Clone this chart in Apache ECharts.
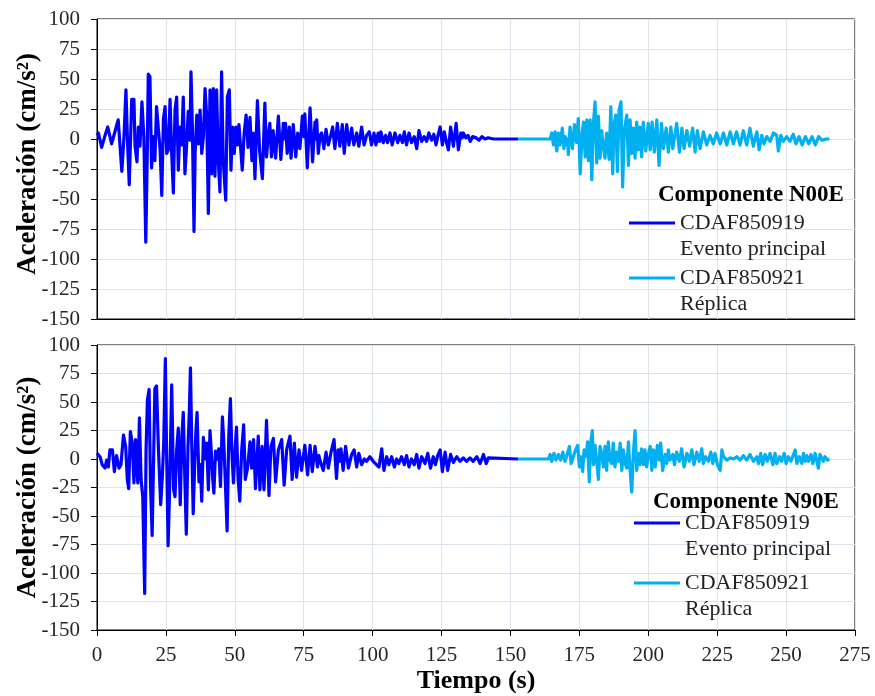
<!DOCTYPE html>
<html><head><meta charset="utf-8">
<script src="https://cdn.jsdelivr.net/npm/echarts@6.0.0/dist/echarts.min.js"></script>
<style>html,body{margin:0;padding:0;background:#fff}#c{width:875px;height:696px}</style>
</head><body><div id="c"></div>
<script>
// ---- data ----
const xTickLabels = [0,25,50,75,100,125,150,175,200,225,250,275];
const yTickLabels = [-150,-125,-100,-75,-50,-25,0,25,50,75,100];
const panelTitles = ['Componente N00E','Componente N90E'];
const seriesNames = ['CDAF850919','CDAF850921'];
const seriesSubtitles = ['Evento principal','Réplica'];
const yTitle = 'Aceleración (cm/s²)';
const xTitle = 'Tiempo (s)';

// N00E, main event [time s, acceleration cm/s2]
const n00eMain = [[0,3],[0.5,5],[1.7,-7],[2.8,2],[3.9,10],[5.3,-4],[6.5,6],[7.7,16],[9.0,-27],[9.8,2],[10.5,41],[11.1,-4],[11.7,-38],[12.6,33],[13.4,33],[13.8,-6],[14.5,-19],[15.0,10],[15.6,-6],[16.3,31],[17.0,2],[17.7,-86],[18.2,-18],[18.6,54],[19.2,52],[19.8,-24],[20.4,2],[21.0,-18],[21.6,27],[22.2,28],[22.9,-9],[23.5,-47],[24.1,17],[24.7,27],[25.3,-12],[25.9,-9],[26.5,33],[27.1,-12],[27.7,-45],[28.3,24],[28.9,35],[29.5,-26],[30.1,10],[30.7,-5],[31.3,35],[31.9,-29],[32.5,-6],[33.1,23],[33.7,-1],[34.1,56],[34.6,10],[35.2,-77],[35.6,-12],[36.2,20],[36.8,-4],[37.4,24],[38.0,-12],[38.6,2],[39.2,42],[39.8,19],[40.4,-62],[41.0,41],[41.6,-29],[42.2,42],[42.8,-31],[43.4,41],[44.0,-18],[44.6,-44],[45.2,56],[45.8,-18],[46.7,-51],[47.3,35],[48.0,41],[48.6,-26],[49.2,10],[49.8,-12],[50.4,10],[51.0,-5],[51.5,12],[52.0,11],[52.7,-26],[53.4,5],[54.1,20],[54.8,-7],[55.5,18],[56.2,-18],[56.7,5],[57.3,-33],[58.2,32],[59.0,-10],[60.0,-33],[60.9,30],[61.5,-15],[62.1,2],[62.7,13],[63.3,-15],[63.9,7],[64.8,-16],[65.8,19],[66.7,-17],[67.6,13],[68.0,0],[68.4,13],[69.0,-12],[69.8,10],[70.4,-16],[71.2,12],[72.1,-15],[72.8,5],[73.6,-8],[74.5,19],[75.0,2],[75.4,21],[76.3,-24],[77.3,26],[78.2,-19],[79.1,14],[79.4,0],[79.7,16],[80.3,-12],[80.9,3],[81.5,5],[82.3,-8],[83.1,8],[83.9,-5],[84.8,3],[85.5,10],[86.3,-8],[87.2,13],[88.1,-6],[89.0,12],[89.7,-12],[90.6,12],[91.4,-5],[92.4,9],[93.2,-5],[94.2,5],[95.0,-6],[96.0,10],[96.9,-5],[97.8,3],[98.8,6],[99.6,-5],[100.5,5],[101.2,-5],[102.0,5],[102.5,-2],[103.0,6],[103.9,-3],[104.7,3],[105.4,-3],[106.3,5],[107.1,-5],[108.1,5],[109.1,-3],[109.9,3],[110.8,-3],[111.5,6],[112.3,-5],[113.2,5],[114.1,-3],[115.1,2],[116.0,-8],[116.8,7],[117.8,-2],[118.7,2],[119.6,-2],[120.4,5],[121.4,-1],[122.2,4],[123.0,-5],[123.7,3],[124.5,10],[125.3,-5],[126.0,6],[126.8,-3],[127.5,-9],[128.3,10],[129.3,-6],[130.3,13],[131.1,-9],[132.0,5],[132.5,1],[132.9,5],[133.8,1],[134.6,3],[135.4,-2],[136.3,2],[137.5,1],[138.6,-1],[139.6,2],[140.8,0],[141.9,1],[143.8,0],[152.8,0]];

// N00E, aftershock
const n00eAfter = [[152.8,0],[164.4,0],[165.0,5],[165.6,-5],[166.2,6],[166.8,-10],[167.4,5],[168.0,-5],[168.8,9],[169.4,-8],[169.9,2],[170.4,-5],[170.7,0],[171.0,-13],[171.6,10],[172.5,-8],[173.2,12],[174.0,-3],[174.6,17],[175.3,-29],[176.0,5],[176.5,14],[177.1,-15],[177.7,16],[178.3,-18],[178.9,16],[179.5,-34],[180.1,13],[180.7,31],[181.3,-20],[181.9,19],[182.5,-16],[183.1,7],[183.7,-6],[184.3,-16],[184.9,5],[185.8,-17],[186.4,27],[187.1,-29],[187.6,12],[188.2,20],[188.8,-27],[189.4,24],[190.1,31],[190.7,-40],[191.3,7],[192.2,20],[192.8,-22],[193.4,16],[194.0,-12],[194.6,9],[195.2,-16],[195.8,14],[196.4,-9],[197.0,10],[197.6,-15],[198.2,14],[199.1,-10],[200.0,13],[200.7,-9],[201.4,14],[202.2,-11],[203.1,16],[203.9,-22],[204.8,13],[205.5,-8],[206.5,9],[207.3,-11],[208.2,10],[208.9,-8],[210.3,13],[211.3,-11],[212.2,9],[213.0,-8],[214.0,7],[215.0,-6],[216.1,9],[217.0,-11],[217.8,7],[218.8,-8],[220.0,6],[221.2,-5],[222.4,3],[223.6,-4],[224.8,5],[226.1,-4],[227.3,5],[228.5,-5],[229.7,6],[230.9,-4],[232.0,6],[233.3,-5],[234.5,7],[235.7,-5],[236.9,9],[238.1,-6],[239.4,6],[240.2,-9],[241.2,3],[242.0,-4],[243.0,2],[244.2,-2],[245.4,5],[246.6,3],[247.2,-10],[248.1,3],[249.0,-2],[250.2,2],[251.4,-2],[252.6,4],[253.6,-4],[254.7,2],[255.8,-5],[257.0,2],[258.2,-4],[259.4,2],[260.6,-5],[261.8,2],[263.0,-1],[264.5,0],[265.7,0]];

// N90E, main event
const n90eMain = [[0,5],[1.1,2],[1.9,-5],[2.9,-8],[3.5,-1],[4.1,-7],[4.7,8],[5.6,8],[6.3,-11],[7.1,3],[8.0,-8],[8.7,-5],[9.6,21],[10.4,11],[11.0,-18],[11.5,-26],[12.1,24],[12.8,14],[13.4,-21],[14.0,17],[14.8,-21],[15.4,36],[16.0,-18],[16.6,-33],[17.3,-118],[17.8,8],[18.3,52],[18.9,61],[19.4,-21],[20.0,-67],[20.6,8],[21.0,62],[21.6,64],[22.3,8],[23.1,-40],[23.7,-16],[24.2,14],[24.8,88],[25.2,14],[25.8,-76],[26.4,-21],[27.1,65],[27.8,-27],[28.3,-33],[28.9,8],[29.5,27],[30.2,-40],[30.8,20],[31.3,41],[31.9,-20],[32.4,-66],[33.0,10],[33.5,42],[33.9,80],[34.4,10],[34.9,-48],[35.5,0],[35.9,25],[36.3,41],[37.0,-20],[37.5,-5],[38.0,-37],[38.6,19],[39.2,0],[39.8,14],[40.4,-27],[41.0,25],[41.5,5],[42.0,-18],[42.4,-30],[43.0,7],[43.7,0],[44.2,9],[44.8,-24],[45.5,37],[46.0,15],[46.6,-23],[47.2,-63],[47.8,20],[48.4,53],[48.9,8],[49.5,-21],[50.1,8],[50.6,28],[51.2,-18],[51.8,-37],[52.5,8],[53.2,30],[53.8,-18],[54.6,-8],[55.5,15],[56.1,-8],[56.8,17],[57.5,-26],[58.5,20],[59.1,-27],[59.9,11],[60.6,-27],[61.5,34],[62.4,-32],[63.1,11],[64.0,18],[64.8,-20],[65.8,8],[67.0,17],[67.9,-23],[68.8,8],[70.0,20],[70.8,-18],[71.6,14],[72.4,-16],[73.3,8],[74.2,-10],[75.4,12],[76.4,-14],[77.3,12],[78.1,-11],[79.1,11],[80.0,-7],[80.5,3],[80.9,-1],[82.1,-10],[83.1,6],[83.9,-8],[84.9,6],[86.0,17],[86.9,-17],[87.5,8],[88.0,-2],[88.5,9],[89.3,-10],[90.2,11],[91.2,-8],[92.4,4],[93.3,8],[94.2,-7],[95.0,5],[96.0,-5],[97.0,0],[97.8,-2],[99.0,2],[100.2,-2],[101.4,-5],[102.3,-7],[103.3,9],[104.1,-10],[105.1,2],[105.9,-5],[106.9,2],[107.9,-7],[108.7,0],[109.5,-4],[110.5,2],[111.5,-5],[112.3,3],[113.2,-7],[114.1,0],[115.1,-5],[116.0,4],[116.8,-8],[117.8,2],[119.0,-4],[120.0,5],[121.0,-8],[122.0,2],[122.8,-5],[123.6,3],[124.5,8],[125.3,-11],[126.3,6],[127.2,-10],[128.3,4],[129.3,-3],[130.5,2],[131.7,-2],[132.9,1],[134.1,-2],[135.3,1],[136.5,-2],[137.8,2],[139.0,-4],[140.2,4],[141.2,-4],[142.0,1],[142.6,0],[152.8,0]];

// N90E, aftershock
const n90eAfter = [[152.8,0],[163.8,0],[164.4,4],[165.0,-2],[165.8,5],[166.5,-1],[167.4,4],[168.2,-1],[169.0,6],[169.8,-2],[170.7,5],[171.4,11],[172.0,-4],[172.8,2],[173.8,9],[174.4,12],[175.0,-7],[175.6,2],[176.2,-11],[176.7,8],[177.4,2],[178.0,15],[178.6,-20],[179.1,14],[179.7,25],[180.1,-5],[180.7,12],[181.3,-2],[181.9,-18],[182.5,11],[183.1,5],[183.7,-7],[184.3,11],[184.9,-10],[185.5,15],[186.1,-1],[186.7,-4],[187.3,14],[187.9,-7],[188.6,6],[189.2,-2],[189.8,14],[190.4,-10],[191.0,8],[191.6,-4],[192.2,-8],[192.8,15],[193.4,-10],[194.0,-29],[194.6,6],[195.2,25],[195.8,-10],[196.4,5],[197.0,-5],[197.6,9],[198.2,-5],[198.8,8],[199.4,-7],[200.1,5],[200.7,11],[201.3,-10],[201.9,8],[202.5,-7],[203.3,12],[204.0,-1],[204.5,14],[205.2,-10],[206.1,4],[206.7,-4],[207.3,8],[207.9,-1],[208.9,4],[209.5,-5],[210.3,6],[211.3,-2],[212.1,9],[213.0,-7],[214.0,5],[214.9,-2],[215.8,8],[216.6,-5],[217.6,6],[218.5,-2],[219.4,9],[220.0,-4],[220.8,2],[221.8,-2],[222.7,6],[223.4,-4],[224.2,5],[225.1,-5],[226.1,-10],[226.7,8],[227.3,2],[228.5,-1],[229.7,1],[230.9,0],[232.1,2],[233.3,-1],[234.5,3],[235.7,-1],[236.9,4],[238.2,-2],[239.4,2],[240.0,-4],[240.8,5],[241.5,-5],[242.4,4],[243.2,-2],[244.2,5],[245.2,-5],[246.0,5],[246.6,-4],[247.6,2],[248.4,-2],[249.3,5],[250.0,-4],[250.8,2],[251.7,-2],[252.7,4],[253.3,8],[253.9,-4],[254.8,2],[255.7,-4],[256.3,5],[256.9,-2],[257.5,3],[258.1,-2],[259.0,4],[259.7,-4],[260.5,5],[261.1,6],[261.7,-8],[262.3,4],[262.9,5],[263.5,-2],[264.1,2],[265.0,-1],[265.7,0]];

// ---- chart ----
const SERIF = '"Liberation Serif","Times New Roman",serif';
const DARK = '#0000FF', LIGHT = '#00B0F0';
const chart = echarts.init(document.getElementById('c'), null, {renderer:'canvas'});

function xAxisFor(idx, showLabels) {
  return {
    type:'value', gridIndex: idx,
    min: xTickLabels[0], max: xTickLabels[xTickLabels.length-1],
    interval: xTickLabels[1]-xTickLabels[0],
    axisLine:{show:true, onZero:false, lineStyle:{color:'#000', width:1}},
    axisTick:{show:showLabels, length:6, lineStyle:{color:'#000'}},
    axisLabel:{show:showLabels, fontFamily:SERIF, fontSize:21, color:'#262626', margin:15},
    splitLine:{show:true, lineStyle:{color:'#dbe3ec', width:1}},
    name: showLabels ? xTitle : '',
    nameLocation:'middle', nameGap:38, nameMoveOverlap:false,
    nameTextStyle:{fontFamily:SERIF, fontSize:26, fontWeight:'bold', color:'#000'}
  };
}
function yAxisFor(idx, namePad) {
  return {
    type:'value', gridIndex: idx,
    min: yTickLabels[0], max: yTickLabels[yTickLabels.length-1],
    interval: yTickLabels[1]-yTickLabels[0],
    axisLine:{show:true, onZero:false, lineStyle:{color:'#000', width:1}},
    axisTick:{show:true, length:6, lineStyle:{color:'#000'}},
    axisLabel:{fontFamily:SERIF, fontSize:21, color:'#262626', margin:17},
    splitLine:{show:true, lineStyle:{color:'#dbe3ec', width:1}},
    name: yTitle, nameLocation:'middle', nameGap:55, nameMoveOverlap:false,
    nameTextStyle:{fontFamily:SERIF, fontSize:27, fontWeight:'bold', color:'#000', padding:namePad}
  };
}
function lineSeries(name, data, color, idx) {
  return {
    type:'line', name, data, xAxisIndex: idx, yAxisIndex: idx,
    symbol:'none', showSymbol:false, smooth:false,
    lineStyle:{color, width:3.2, join:'round'}, itemStyle:{color},
    z: 3
  };
}
const subFor = {};
seriesNames.forEach((n,i)=>{ subFor[n] = seriesSubtitles[i]; });
function legendFor(name, left, centerY) {
  return {
    data:[name], left, top: centerY - 39, orient:'vertical', padding:0,
    icon:'rect', itemWidth:46, itemHeight:3, selectedMode:false,
    formatter: n => ' \n' + n + '\n' + subFor[n],
    textStyle:{fontFamily:SERIF, fontSize:22, lineHeight:26, color:'#222'}
  };
}

const option = {
  animation:false,
  backgroundColor:'#fff',
  title: [
    {text: panelTitles[0], left:658, top:184, padding:0,
     textStyle:{fontFamily:SERIF, fontSize:23, fontWeight:'bold', color:'#000'}},
    {text: panelTitles[1], left:653, top:491, padding:0,
     textStyle:{fontFamily:SERIF, fontSize:23, fontWeight:'bold', color:'#000'}}
  ],
  legend: [
    legendFor(seriesNames[0], 629, 223),
    legendFor(seriesNames[1], 629, 278),
    legendFor(seriesNames[0], 634, 523),
    legendFor(seriesNames[1], 634, 583)
  ],
  grid: [
    {left:97, top:19, width:758, height:300, show:true, borderColor:'#000', borderWidth:1, backgroundColor:'transparent', containLabel:false, outerBoundsMode:'none'},
    {left:97, top:345, width:758, height:285, show:true, borderColor:'#000', borderWidth:1, backgroundColor:'transparent', containLabel:false, outerBoundsMode:'none'}
  ],
  xAxis:[xAxisFor(0,false), xAxisFor(1,true)],
  yAxis:[yAxisFor(0,[0,0,0,10]), yAxisFor(1,[0,0,0,0])],
  series:[
    lineSeries(seriesNames[0], n00eMain, DARK, 0),
    lineSeries(seriesNames[1], n00eAfter, LIGHT, 0),
    lineSeries(seriesNames[0], n90eMain, DARK, 1),
    lineSeries(seriesNames[1], n90eAfter, LIGHT, 1)
  ]
};
chart.setOption(option);
</script></body></html>
